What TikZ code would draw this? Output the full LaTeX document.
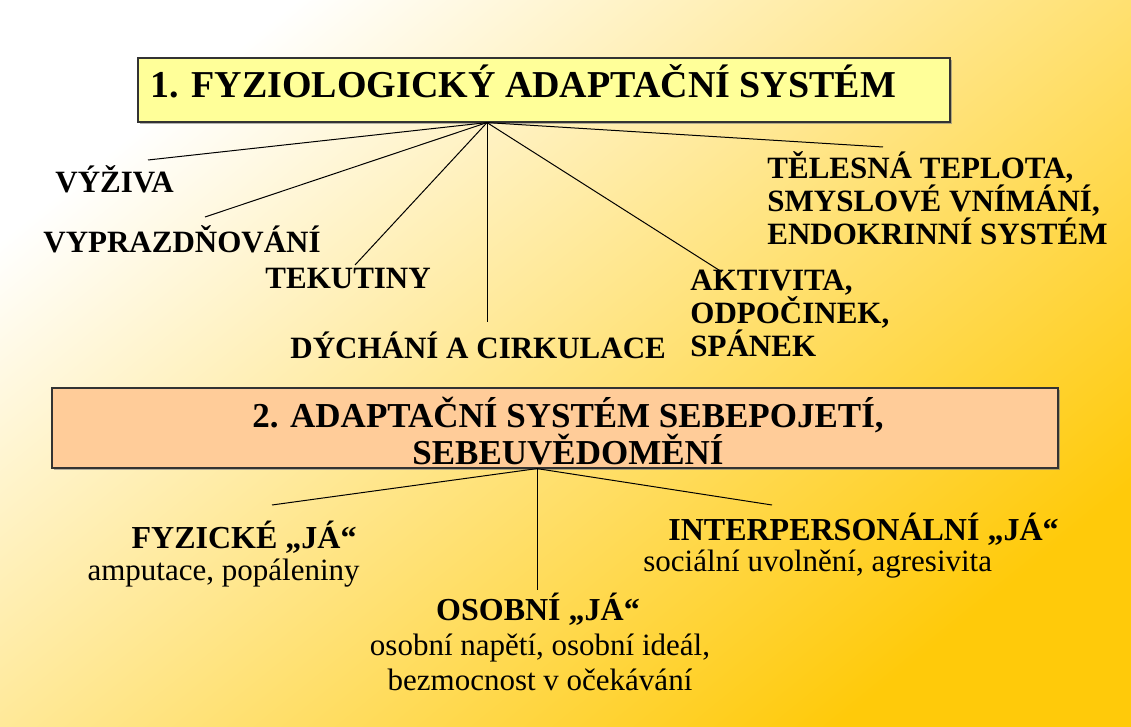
\documentclass[tikz,border=0pt]{standalone}
\usepackage{fontspec}
\setmainfont{LiberationSerif}[Extension=.ttf,UprightFont=*-Regular,BoldFont=*-Bold,ItalicFont=*-Italic]
\usetikzlibrary{shadows}
\definecolor{boxyellow}{RGB}{255,255,153}
\definecolor{boxpeach}{RGB}{255,204,153}
\definecolor{bgpeach}{RGB}{255,230,188}
\definecolor{bggold}{RGB}{255,202,10}

\begin{document}
\begin{tikzpicture}[x=0.5pt,y=-0.5pt,
  sysbox/.style={draw=black!80,line width=0.6pt,inner sep=0pt,
    drop shadow={shadow xshift=1pt,shadow yshift=-1pt,opacity=0.6}},
  title/.style={inner sep=0pt,font=\fontsize{19}{22}\selectfont\bfseries},
  item/.style={inner sep=0pt,align=left,font=\fontsize{15.5}{16.5}\selectfont\bfseries},
  self/.style={inner sep=0pt,font=\fontsize{16}{18}\selectfont\bfseries},
  note/.style={inner sep=0pt,font=\fontsize{15.5}{17.5}\selectfont},
  link/.style={line width=0.5pt}]
  % background
  \shade[top color=white,middle color=bgpeach,bottom color=bggold,shading angle=39]
    (0,0) rectangle (1131,727);
  \useasboundingbox (0,0) rectangle (1131,727);

  % 1. physiological mode
  \node[sysbox,fill=boxyellow,minimum width=406pt,minimum height=32pt] (s1) at (544,90) {};
  \node[title,anchor=west] (t1) at (150,81) {1. FYZIOLOGICKÝ ADAPTAČNÍ SYSTÉM};
  \coordinate (h1) at ([xshift=-28.5pt]s1.south);

  \node[item,anchor=west] (vyz) at (55,179) {VÝŽIVA};
  \node[item,anchor=west] (vypr) at (43,239) {VYPRAZDŇOVÁNÍ};
  \node[item,anchor=west] (tek) at (265,278) {TEKUTINY};
  \node[item,anchor=west] (dych) at (290,345) {DÝCHÁNÍ A CIRKULACE};
  \node[item,anchor=west] (akt) at (690,313) {AKTIVITA,\\ODPOČINEK,\\SPÁNEK};
  \node[item,anchor=west] (tel) at (767,198) {TĚLESNÁ TEPLOTA,\\SMYSLOVÉ VNÍMÁNÍ,\\ENDOKRINNÍ SYSTÉM};

  \coordinate (e1) at (148,160);
  \coordinate (e2) at (205,217);
  \coordinate (e3) at (355,265);
  \coordinate (e4) at (487,322);
  \coordinate (e5) at (722,272);
  \coordinate (e6) at (883,147);
  \foreach \e in {e1,e2,e3,e4,e5,e6}
    \draw[link] (h1) -- (\e);

  % 2. self-concept mode
  \node[sysbox,fill=boxpeach,minimum width=503pt,minimum height=40pt] (s2) at (555,428) {};
  \node[title,align=center,font=\fontsize{17.5}{18.5}\selectfont\bfseries] (t2) at (568,431)
    {2. ADAPTAČNÍ SYSTÉM SEBEPOJETÍ,\\SEBEUVĚDOMĚNÍ};
  \coordinate (h2) at ([xshift=-9pt]s2.south);

  \node[self,anchor=east] (fyz) at (357,537) {FYZICKÉ „JÁ“};
  \node[note,anchor=east] (fyzd) at (360,573) {amputace, popáleniny};
  \node[self,anchor=west] (inter) at (668,529) {INTERPERSONÁLNÍ „JÁ“};
  \node[note,anchor=west] (interd) at (643,564) {sociální uvolnění, agresivita};
  \node[self] (osob) at (538,609) {OSOBNÍ „JÁ“};
  \node[note,align=center] (osobd) at (540,662) {osobní napětí, osobní ideál,\\bezmocnost v očekávání};

  \coordinate (f1) at (272,505);
  \coordinate (f2) at (537,590);
  \coordinate (f3) at (772,505);
  \foreach \f in {f1,f2,f3}
    \draw[link] (h2) -- (\f);
\end{tikzpicture}
\end{document}
